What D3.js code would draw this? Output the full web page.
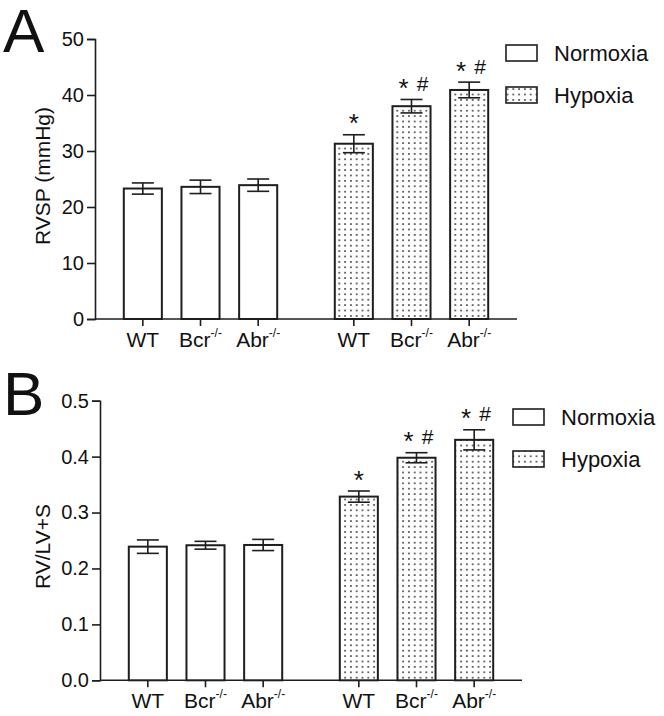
<!DOCTYPE html>
<html>
<head>
<meta charset="utf-8">
<script src="https://cdn.jsdelivr.net/npm/d3@7/dist/d3.min.js"></script>
<style>
  html, body { margin: 0; padding: 0; background: #fff; }
  svg { display: block; }
  text { font-family: "Liberation Sans", Arial, sans-serif; fill: #111; }
</style>
</head>
<body>
<svg id="chart" width="664" height="716"></svg>
<script>
// ---------- data ----------
const conditions = ["Normoxia", "Hypoxia"];
const genotypes = ["WT", "Bcr", "Abr"];
const genotypeSup = ["", "-/-", "-/-"];

const rvspMean = [[23.3, 23.6, 23.9], [31.3, 38.0, 40.9]];
const rvspErr  = [[1.0, 1.2, 1.1], [1.6, 1.2, 1.4]];
const rvspTicks = [0, 10, 20, 30, 40, 50];

const ratioMean = [[0.239, 0.2415, 0.242], [0.3285, 0.398, 0.430]];
const ratioErr  = [[0.012, 0.007, 0.010], [0.010, 0.009, 0.018]];
const ratioTicks = [0.0, 0.1, 0.2, 0.3, 0.4, 0.5];

// significance marks: [star, hash]
const sigStar = [[false, false, false], [true, true, true]];
const sigHash = [[false, false, false], [false, true, true]];

// ---------- drawing ----------
const svg = d3.select("#chart");
const defs = svg.append("defs");
const pat = defs.append("pattern")
  .attr("id", "dots").attr("patternUnits", "userSpaceOnUse")
  .attr("width", 5.8).attr("height", 5.4);
pat.append("rect").attr("width", 5.8).attr("height", 5.4).attr("fill", "#fff");
pat.append("circle").attr("cx", 2.9).attr("cy", 2.7).attr("r", 0.95).attr("fill", "#333");

const ink = "#1e1e1e";
const FONT = "Liberation Sans, Arial, sans-serif";

function drawPanel(cfg) {
  const g = svg.append("g");
  const x0 = d3.scaleBand().domain(conditions)
    .range([cfg.left, cfg.right]).paddingInner(0.18).paddingOuter(0.09);
  const x1 = d3.scaleBand().domain(genotypes)
    .range([0, x0.bandwidth()]).paddingInner(0.34).paddingOuter(0.17);
  const y = d3.scaleLinear().domain(cfg.domain).range([cfg.bottom, cfg.top]);

  // y axis
  const yAxis = d3.axisLeft(y).tickValues(cfg.ticks).tickSize(8).tickPadding(3)
    .tickFormat(cfg.fmt);
  const ya = g.append("g").attr("transform", `translate(${cfg.left},0)`).call(yAxis);
  ya.select(".domain").attr("stroke", ink).attr("stroke-width", 1.6);
  ya.selectAll(".tick line").attr("stroke", ink).attr("stroke-width", 1.6);
  ya.selectAll(".tick text").attr("font-size", 20)
    .attr("font-family", FONT).attr("fill", "#111");

  // x axis line
  g.append("line").attr("x1", cfg.left).attr("x2", cfg.right)
    .attr("y1", y(0)).attr("y2", y(0)).attr("stroke", ink).attr("stroke-width", 1.6);

  conditions.forEach((c, ci) => {
    genotypes.forEach((gt, gi) => {
      const bx = x0(c) + x1(gt);
      const bw = x1.bandwidth();
      const cx = bx + bw / 2;
      const v = cfg.mean[ci][gi], e = cfg.err[ci][gi];
      // bar
      g.append("rect").attr("x", bx).attr("y", y(v))
        .attr("width", bw).attr("height", y(0) - y(v))
        .attr("fill", ci === 0 ? "#fff" : "url(#dots)")
        .attr("stroke", ink).attr("stroke-width", 2);
      // error bar
      const cap = 11;
      g.append("line").attr("x1", cx).attr("x2", cx)
        .attr("y1", y(v + e)).attr("y2", y(v - e)).attr("stroke", ink).attr("stroke-width", 1.6);
      [v + e, v - e].forEach(val => {
        g.append("line").attr("x1", cx - cap).attr("x2", cx + cap)
          .attr("y1", y(val)).attr("y2", y(val)).attr("stroke", ink).attr("stroke-width", 1.6);
      });
      // x tick
      g.append("line").attr("x1", cx).attr("x2", cx)
        .attr("y1", y(0)).attr("y2", y(0) + 7).attr("stroke", ink).attr("stroke-width", 1.6);
      // label
      const t = g.append("text").attr("x", cx).attr("y", y(0) + 28)
        .attr("text-anchor", "middle").attr("font-size", 21);
      t.append("tspan").text(gt);
      if (genotypeSup[gi]) {
        t.append("tspan").attr("font-size", 12).attr("dy", -10).text(genotypeSup[gi]);
      }
      // significance
      const top = y(v + e);
      const hasHash = sigHash[ci][gi];
      if (sigStar[ci][gi]) {
        g.append("text").attr("x", hasHash ? cx - 8 : cx)
          .attr("y", top - 2.5)
          .attr("text-anchor", "middle").attr("font-size", 26)
          .text("*");
      }
      if (hasHash) {
        g.append("text").attr("x", cx + 11)
          .attr("y", top - 8.5)
          .attr("text-anchor", "middle").attr("font-size", 21)
          .text("#");
      }
    });
  });

  // y title
  g.append("text")
    .attr("transform", `translate(${cfg.titleX},${(cfg.top + cfg.bottom) / 2 + cfg.titleShift}) rotate(-90)`)
    .attr("text-anchor", "middle").attr("font-size", 21).text(cfg.title);

  // panel letter
  g.append("text").attr("x", 3).attr("y", cfg.letterY)
    .attr("font-size", 62).text(cfg.letter);

  // legend
  conditions.forEach((c, ci) => {
    const ly = cfg.legendY + ci * 42;
    g.append("rect").attr("x", cfg.legendX).attr("y", ly)
      .attr("width", 31).attr("height", 16)
      .attr("fill", ci === 0 ? "#fff" : "url(#dots)")
      .attr("stroke", ink).attr("stroke-width", 1.6);
    g.append("text").attr("x", cfg.legendX + 48).attr("y", ly + 15.5)
      .attr("font-size", 22).text(c);
  });
}

drawPanel({
  left: 95, right: 517, top: 39, bottom: 319,
  domain: [0, 50], ticks: rvspTicks, fmt: d3.format("d"),
  mean: rvspMean, err: rvspErr,
  title: "RVSP (mmHg)", titleX: 50, titleShift: -3,
  letter: "A", letterY: 52,
  legendX: 506, legendY: 45
});

drawPanel({
  left: 100, right: 522, top: 400.7, bottom: 680.3,
  domain: [0, 0.5], ticks: ratioTicks, fmt: d3.format(".1f"),
  mean: ratioMean, err: ratioErr,
  title: "RV/LV+S", titleX: 50, titleShift: 6,
  letter: "B", letterY: 415,
  legendX: 513, legendY: 409
});
</script>
</body>
</html>
